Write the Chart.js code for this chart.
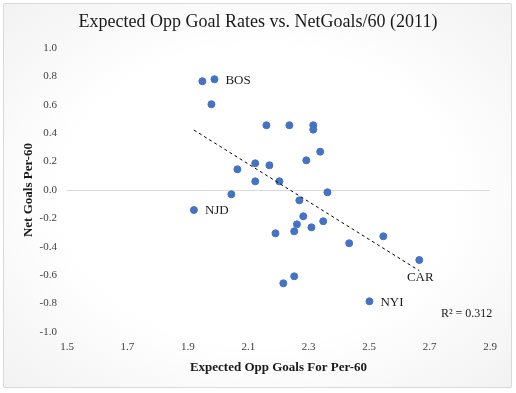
<!DOCTYPE html>
<html>
<head>
<meta charset="utf-8">
<script src="https://cdn.jsdelivr.net/npm/chart.js@4.4.1/dist/chart.umd.min.js"></script>
<style>
  body { margin: 0; background: #fff; }
  #wrap { position: relative; width: 516px; height: 393px; }
  #frame {
    position: absolute; left: 3px; top: 3px; width: 507px; height: 383px;
    border: 1px solid #d9d9d9; border-radius: 2px;
    background: radial-gradient(ellipse at center, #ffffff 55%, #f2f2f2 100%);
  }
  canvas { position: absolute; left: 0; top: 0; }
</style>
</head>
<body>
<div id="wrap">
  <div id="frame"></div>
  <canvas id="myChart" width="516" height="393"></canvas>
</div>
<script>
// Expected opponent goals per 60 (x) and net goals per 60 (y), one per team
const oppGoals = [1.948, 1.988, 1.978, 2.160, 2.236, 2.315, 2.315, 2.338, 2.292, 2.064,
                  2.123, 2.170, 2.123, 2.203, 2.044, 2.362, 1.920, 2.269, 2.282, 2.261,
                  2.252, 2.309, 2.348, 2.190, 2.434, 2.547, 2.252, 2.216, 2.666, 2.501];
const netGoals = [0.766, 0.780, 0.604, 0.456, 0.456, 0.456, 0.425, 0.270, 0.209, 0.146,
                  0.188, 0.174, 0.061, 0.061, -0.030, -0.016, -0.141, -0.073, -0.185, -0.242,
                  -0.291, -0.263, -0.220, -0.305, -0.375, -0.326, -0.608, -0.657, -0.493, -0.784];
// only a few teams are labelled on the chart
const teamLabels = ['', 'BOS', '', '', '', '', '', '', '', '',
                    '', '', '', '', '', '', 'NJD', '', '', '',
                    '', '', '', '', '', '', '', '', 'CAR', 'NYI'];
const xTicks = [1.5, 1.7, 1.9, 2.1, 2.3, 2.5, 2.7, 2.9];
const yTicks = [-1.0, -0.8, -0.6, -0.4, -0.2, 0.0, 0.2, 0.4, 0.6, 0.8, 1.0];
const chartTitle = 'Expected Opp Goal Rates vs. NetGoals/60 (2011)';
const rSquaredText = 'R\u00B2 = 0.312';

// Least squares trend line over the points
function trendLine(xs, ys) {
  const n = xs.length;
  const mx = xs.reduce((a, b) => a + b, 0) / n;
  const my = ys.reduce((a, b) => a + b, 0) / n;
  let sxy = 0, sxx = 0;
  for (let i = 0; i < n; i++) {
    sxy += (xs[i] - mx) * (ys[i] - my);
    sxx += (xs[i] - mx) * (xs[i] - mx);
  }
  const slope = sxy / sxx;
  const b = my - slope * mx;
  const x0 = Math.min(...xs), x1 = Math.max(...xs);
  return [{ x: x0, y: slope * x0 + b }, { x: x1, y: slope * x1 + b }];
}

const points = oppGoals.map((x, i) => ({ x: x, y: netGoals[i] }));
const serif = "'Liberation Serif', 'DejaVu Serif', serif";

// Draws the title, team labels and R squared text
const textPlugin = {
  id: 'textPlugin',
  afterDatasetsDraw(chart) {
    const ctx = chart.ctx;
    ctx.save();
    ctx.fillStyle = '#1a1a1a';
    ctx.font = '18px ' + serif;
    ctx.textAlign = 'center';
    ctx.textBaseline = 'middle';
    ctx.fillText(chartTitle, 258, 22);

    const meta = chart.getDatasetMeta(1);
    ctx.font = '13px ' + serif;
    teamLabels.forEach((name, i) => {
      if (!name) return;
      const el = meta.data[i];
      if (name === 'CAR') {
        ctx.textAlign = 'center';
        ctx.fillText(name, el.x + 1, el.y + 18);
      } else {
        ctx.textAlign = 'left';
        ctx.fillText(name, el.x + 11, el.y + 1);
      }
    });

    ctx.font = '12px ' + serif;
    ctx.textAlign = 'left';
    ctx.fillText(rSquaredText, 441, 314);
    ctx.restore();
  }
};

window.onload = function() {
  const ctx = document.getElementById('myChart').getContext('2d');
  new Chart(ctx, {
    type: 'scatter',
    data: {
      datasets: [{
        type: 'line',
        data: trendLine(oppGoals, netGoals),
        borderColor: '#000000',
        borderWidth: 1,
        borderDash: [3, 3],
        pointRadius: 0,
        fill: false
      }, {
        data: points,
        backgroundColor: '#4472C4',
        borderColor: '#4472C4',
        pointRadius: 3.5,
        pointHoverRadius: 3.5
      }]
    },
    options: {
      responsive: false,
      animation: false,
      devicePixelRatio: 1,
      layout: { padding: { left: 3, right: 26, top: 48, bottom: 5 } },
      plugins: { legend: { display: false }, tooltip: { enabled: false }, title: { display: false } },
      scales: {
        x: {
          type: 'linear',
          min: 1.5,
          max: 2.9,
          afterBuildTicks: (axis) => { axis.ticks = xTicks.map(v => ({ value: v })); },
          afterFit: (axis) => { axis.height = 56; },
          grid: { display: false, drawTicks: false },
          border: { display: false },
          ticks: {
            padding: 9,
            color: '#404040',
            font: { family: serif, size: 11 },
            callback: (v) => v.toFixed(1)
          },
          title: {
            display: true,
            text: 'Expected Opp Goals For Per-60',
            color: '#1a1a1a',
            font: { family: serif, size: 13, weight: 'bold' },
            padding: { top: 0, bottom: 13 }
          }
        },
        y: {
          type: 'linear',
          min: -1,
          max: 1,
          afterBuildTicks: (axis) => { axis.ticks = yTicks.map(v => ({ value: v })); },
          afterFit: (axis) => { axis.width = 64; },
          grid: {
            drawTicks: false,
            color: (c) => (c.tick && Math.abs(c.tick.value) < 1e-9) ? '#d9d9d9' : 'rgba(0,0,0,0)'
          },
          border: { display: false },
          ticks: {
            padding: 10,
            color: '#404040',
            font: { family: serif, size: 11 },
            callback: (v) => Math.abs(v) < 1e-9 ? '0.0' : v.toFixed(1)
          },
          title: {
            display: true,
            text: 'Net Goals Per-60',
            color: '#1a1a1a',
            font: { family: serif, size: 13, weight: 'bold' },
            padding: { top: 18, bottom: 0 }
          }
        }
      }
    },
    plugins: [textPlugin]
  });
};
</script>
</body>
</html>
